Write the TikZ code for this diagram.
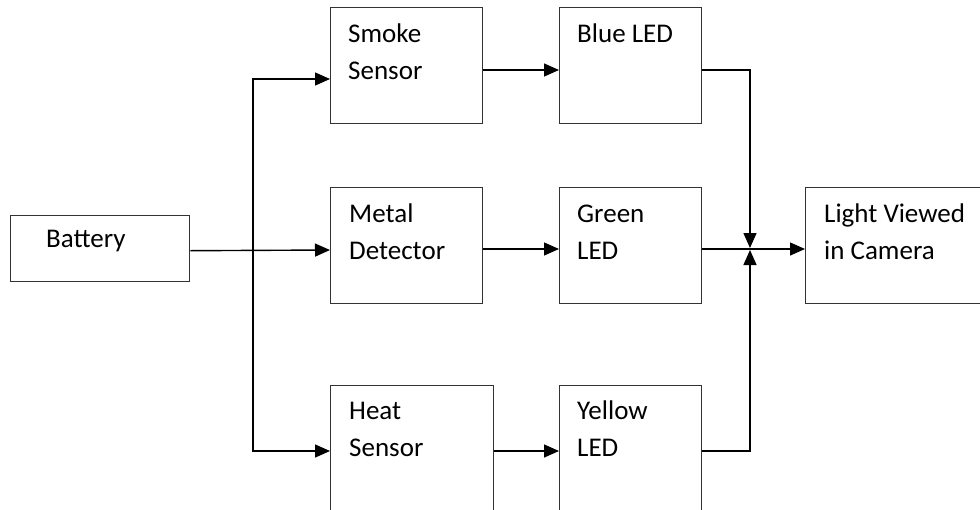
\documentclass[tikz,border=0pt]{standalone}
\usepackage{fontspec}
\setmainfont{Carlito}
\usetikzlibrary{arrows.meta}
\tikzset{
  box/.style={draw=black!80, line width=1.4pt, rectangle, anchor=north west, inner sep=0pt},
  txt/.style={anchor=base west, inner sep=0pt, text=black, font=\fontsize{27}{37}\selectfont},
  arr/.style={draw=black, line width=1.4pt, -{Triangle[length=15pt,width=13pt]}},
}
\newcommand{\twoline}[2]{\begin{tabular}[t]{@{}l@{}}#1\\#2\end{tabular}}
\begin{document}
\begin{tikzpicture}[x=1pt,y=-1pt]
\useasboundingbox (0,0) rectangle (980,509);
\clip (0,0) rectangle (980,509);
\fill[white] (0,0) rectangle (980,509);
% boxes
\node[box, minimum width=179pt, minimum height=66pt] (battery) at (10,215) {};
\node[box, minimum width=152pt, minimum height=116pt] (smoke) at (330,7) {};
\node[box, minimum width=152pt, minimum height=116pt] (metal) at (330,187) {};
\node[box, minimum width=163pt, minimum height=160pt] (heat) at (330,385) {};
\node[box, minimum width=142pt, minimum height=116pt] (blue) at (559,7) {};
\node[box, minimum width=142pt, minimum height=116pt] (green) at (559,187) {};
\node[box, minimum width=142pt, minimum height=160pt] (yellow) at (559,385) {};
\node[box, minimum width=200pt, minimum height=116pt] (light) at (805,187) {};
% texts
\node[txt] (battery-t) at ([xshift=36pt,yshift=-32pt]battery.north west) {Battery};
\node[txt] (smoke-t) at ([xshift=18pt,yshift=-35pt]smoke.north west) {\twoline{Smoke}{Sensor}};
\node[txt] (metal-t) at ([xshift=19pt,yshift=-35pt]metal.north west) {\twoline{Metal}{Detector}};
\node[txt] (heat-t) at ([xshift=19pt,yshift=-34pt]heat.north west) {\twoline{Heat}{Sensor}};
\node[txt] (blue-t) at ([xshift=18pt,yshift=-35pt]blue.north west) {Blue LED};
\node[txt] (green-t) at ([xshift=18pt,yshift=-35pt]green.north west) {\twoline{Green}{LED}};
\node[txt] (yellow-t) at ([xshift=18pt,yshift=-34pt]yellow.north west) {\twoline{Yellow}{LED}};
\node[txt] (light-t) at ([xshift=19pt,yshift=-35pt]light.north west) {\twoline{Light Viewed}{in Camera}};
% connectors
\coordinate (bm) at (253,250);
\coordinate (rb) at (750,249);
\draw[arr] ([yshift=-2pt]battery.east) -- (metal.west |- bm);
\draw[arr] (bm) |- ([yshift=-72pt]smoke.north west);
\draw[arr] (bm) |- ([yshift=-66pt]heat.north west);
\draw[arr] ([yshift=-63pt]smoke.north east) -- ([yshift=-63pt]blue.north west);
\draw[arr] ([yshift=-62pt]metal.north east) -- ([yshift=-62pt]green.north west);
\draw[arr] ([yshift=-66pt]heat.north east) -- ([yshift=-66pt]yellow.north west);
\draw[arr] ([yshift=-63pt]blue.north east) -| ([yshift=1pt]rb);
\draw[arr] ([yshift=-66pt]yellow.north east) -| ([yshift=-1pt]rb);
\draw[arr] ([yshift=-62pt]green.north east) -- ([yshift=-62pt]light.north west);
\end{tikzpicture}
\end{document}
